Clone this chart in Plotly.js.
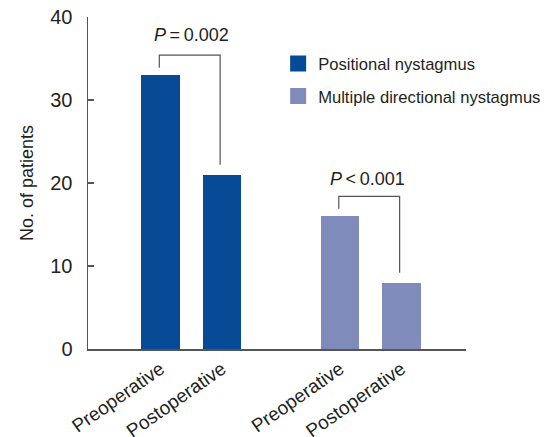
<!DOCTYPE html>
<html>
<head>
<meta charset="utf-8">
<script src="https://cdn.plot.ly/plotly-3.0.1.min.js"></script>
<style>html,body{margin:0;padding:0;background:#fff;}#chart{width:547px;height:437px;}</style>
</head>
<body>
<div id="chart"></div>
<script>
// Data
var tickLabels = ["Preoperative", "Postoperative", "Preoperative", "Postoperative"];
var seriesNames = ["Positional nystagmus", "Multiple directional nystagmus"];
var positionalValues = [33, 21];
var multipleValues = [16, 8];
var pLabels = ["<i>P</i>\u2009=\u20090.002", "<i>P</i>\u2009&lt;\u20090.001"];

// Layout helpers (positions, styles)
var posPositional = [0, 1];
var posMultiple = [2.92, 3.92];
var barWidth = 0.62;
var colors = ["#074a96", "#7f8bba"];
var textColor = "#231f20";
var lineColor = "#555555";
var font = "Liberation Sans, Arial, Helvetica, sans-serif";

var traces = [
  {type: "bar", name: seriesNames[0], x: posPositional, y: positionalValues, width: barWidth,
   marker: {color: colors[0]}, showlegend: false, hoverinfo: "skip"},
  {type: "bar", name: seriesNames[1], x: posMultiple, y: multipleValues, width: barWidth,
   marker: {color: colors[1]}, showlegend: false, hoverinfo: "skip"},
  // legend entries with larger square swatches
  {type: "scatter", mode: "markers", name: seriesNames[0], x: [null], y: [null],
   marker: {symbol: "square", size: 16, color: colors[0]}, legendgroup: "a"},
  {type: "scatter", mode: "markers", name: seriesNames[1], x: [null], y: [null],
   marker: {symbol: "square", size: 16, color: colors[1]}, legendgroup: "b"}
];

function bracket(xs, vals) {
  var top = Math.max(vals[0], vals[1]) + 2.4;
  var x0 = xs[0] - 0.02, x1 = xs[1] - 0.03;
  return {type: "path", xref: "x", yref: "y",
    path: "M" + x0 + "," + (vals[0] + 0.9) + " L" + x0 + "," + top + " L" + x1 + "," + top + " L" + x1 + "," + (vals[1] + 1.2),
    line: {color: lineColor, width: 1.2}};
}

var shapes = [bracket(posPositional, positionalValues), bracket(posMultiple, multipleValues)];
var annotations = [
  {x: (posPositional[0] + posPositional[1]) / 2, y: Math.max.apply(null, positionalValues) + 4.8,
   xref: "x", yref: "y", text: pLabels[0], showarrow: false, font: {size: 18, color: textColor, family: font}},
  {x: (posMultiple[0] + posMultiple[1]) / 2 - 0.05, y: Math.max.apply(null, multipleValues) + 4.5,
   xref: "x", yref: "y", text: pLabels[1], showarrow: false, font: {size: 18, color: textColor, family: font}}
];

var layout = {
  width: 547, height: 437,
  margin: {l: 88, r: 81, t: 17, b: 88, autoexpand: false},
  paper_bgcolor: "#fff", plot_bgcolor: "#fff",
  font: {family: font, color: textColor},
  showlegend: true,
  legend: {x: 0.503, y: 0.912, xanchor: "left", yanchor: "top", font: {size: 16.6, color: textColor, family: font},
           tracegroupgap: 8, bgcolor: "rgba(0,0,0,0)", itemwidth: 30},
  xaxis: {range: [-1.18, 4.97], tickvals: posPositional.concat(posMultiple), ticktext: tickLabels,
          tickangle: -35, tickfont: {size: 19, color: textColor, family: font}, ticks: "", automargin: false,
          showline: true, linecolor: lineColor, linewidth: 1.5, showgrid: false, zeroline: false, fixedrange: true},
  yaxis: {range: [0, 40], tickvals: [0, 10, 20, 30, 40], ticks: "inside", ticklen: 6, tickcolor: lineColor, tickwidth: 1.2,
          tickfont: {size: 20, color: textColor, family: font}, ticklabelstandoff: 10, automargin: false,
          showline: true, linecolor: lineColor, linewidth: 1.5, showgrid: false, zeroline: false,
          title: {text: "No. of patients", font: {size: 18, color: textColor, family: font}, standoff: 12}},
  bargap: 0,
  shapes: shapes,
  annotations: annotations
};

Plotly.newPlot("chart", traces, layout, {displayModeBar: false, staticPlot: true});
</script>
</body>
</html>
